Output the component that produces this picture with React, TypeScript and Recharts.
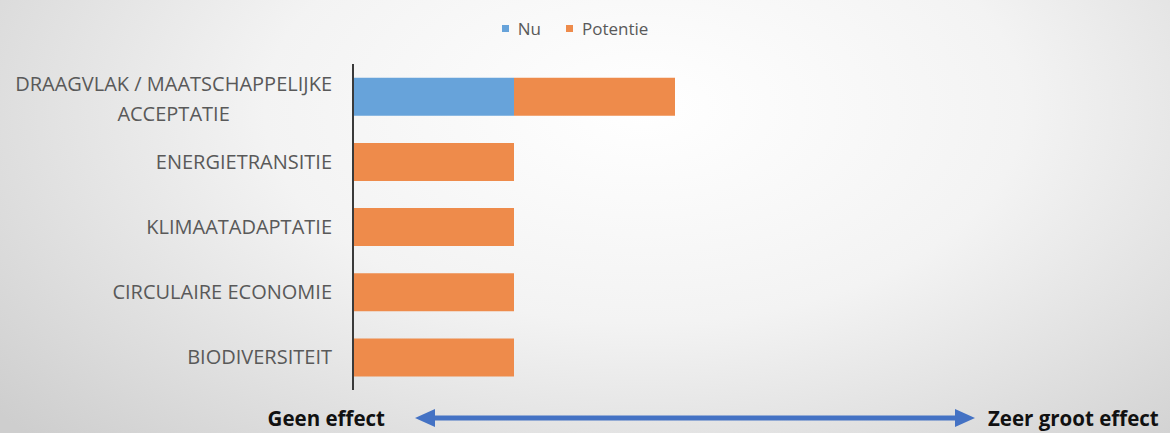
import React from 'react';
import { BarChart, Bar, XAxis, YAxis, Legend } from 'recharts';

const categories = [
  'DRAAGVLAK / MAATSCHAPPELIJKE ACCEPTATIE',
  'ENERGIETRANSITIE',
  'KLIMAATADAPTATIE',
  'CIRCULAIRE ECONOMIE',
  'BIODIVERSITEIT',
];
const nuValues = [1, 0, 0, 0, 0];
const potentieValues = [1, 1, 1, 1, 1];
const scaleLabels = ['Geen effect', 'Zeer groot effect'];

const data = categories.map((name, i) => ({
  name,
  nu: nuValues[i],
  potentie: potentieValues[i],
}));

const LABEL_FONT = '"Open Sans", sans-serif';
const LABEL_SIZE = 20;

// long category names wrap after the slash, like the original
const splitLabel = (s: string) => {
  const idx = s.indexOf('/ ');
  if (idx === -1) return [s];
  const rest = s.slice(idx + 2);
  const sp = rest.indexOf(' ');
  if (sp === -1) return [s];
  return [s.slice(0, idx + 2) + rest.slice(0, sp), rest.slice(sp + 1)];
};

const measure = (text: string) => {
  const c = document.createElement('canvas').getContext('2d');
  if (!c) return text.length * 10;
  c.font = `${LABEL_SIZE}px ${LABEL_FONT}`;
  return c.measureText(text).width;
};

const CategoryTick = (props: any) => {
  const { x, y, payload } = props;
  const lines = splitLabel(payload.value);
  if (lines.length === 1) {
    return (
      <text x={x} y={y} dy={7} textAnchor="end" fill="#595959" fontSize={LABEL_SIZE} fontFamily={LABEL_FONT}>
        {payload.value}
      </text>
    );
  }
  const w = measure(lines[0]);
  const cx = x - w / 2;
  return (
    <text x={cx} y={y} textAnchor="middle" fill="#595959" fontSize={LABEL_SIZE} fontFamily={LABEL_FONT}>
      {lines.map((l, i) => (
        <tspan key={i} x={cx} dy={i === 0 ? -6 : 30}>
          {l}
        </tspan>
      ))}
    </text>
  );
};

const LegendContent = (props: any) => {
  const { payload } = props;
  return (
    <div style={{ display: 'flex', justifyContent: 'center', fontFamily: LABEL_FONT, fontSize: 17, color: '#595959' }}>
      {(payload || []).map((p: any, i: number) => (
        <span key={i} style={{ display: 'inline-flex', alignItems: 'center', marginLeft: i === 0 ? 0 : 25 }}>
          <span style={{ width: 7, height: 7, background: p.color, marginRight: 9, display: 'inline-block' }} />
          {p.value}
        </span>
      ))}
    </div>
  );
};

const App: React.FC = () => {
  return (
    <div
      style={{
        position: 'absolute',
        left: 0,
        top: 0,
        width: 1170,
        height: 433,
        background: 'radial-gradient(ellipse 72% 110% at 55% 25%, #ffffff 0%, #f3f3f3 45%, #cecece 100%)',
        overflow: 'hidden',
      }}
    >
      <BarChart
        width={1170}
        height={433}
        data={data}
        layout="vertical"
        margin={{ top: 41, right: 12, bottom: 43, left: 0 }}
        barCategoryGap="21%"
      >
        <XAxis type="number" domain={[0, 5]} hide />
        <YAxis
          type="category"
          dataKey="name"
          width={353}
          tickLine={false}
          axisLine={{ stroke: '#3a3a3a', strokeWidth: 2 }}
          tick={<CategoryTick />}
          interval={0}
          tickMargin={15}
        />
        <Legend
          verticalAlign="top"
          align="center"
          content={<LegendContent />}
          wrapperStyle={{ top: 17, left: -4 }}
        />
        <Bar dataKey="nu" name="Nu" stackId="a" fill="#67A3DA" isAnimationActive={false} />
        <Bar dataKey="potentie" name="Potentie" stackId="a" fill="#EE8B4B" isAnimationActive={false} />
      </BarChart>
      <svg width={1170} height={433} style={{ position: 'absolute', left: 0, top: 0, pointerEvents: 'none' }}>
        <text x={385} y={426} textAnchor="end" fontFamily={LABEL_FONT} fontWeight={700} fontSize={20.5} fill="#111">
          {scaleLabels[0]}
        </text>
        <text x={988} y={426} textAnchor="start" fontFamily={LABEL_FONT} fontWeight={700} fontSize={20.5} fill="#111">
          {scaleLabels[1]}
        </text>
        <line x1={432} y1={418} x2={958} y2={418} stroke="#4472C4" strokeWidth={5} />
        <polygon points="415,418 435,409 435,427" fill="#4472C4" />
        <polygon points="975,418 955,409 955,427" fill="#4472C4" />
      </svg>
    </div>
  );
};

export default App;
